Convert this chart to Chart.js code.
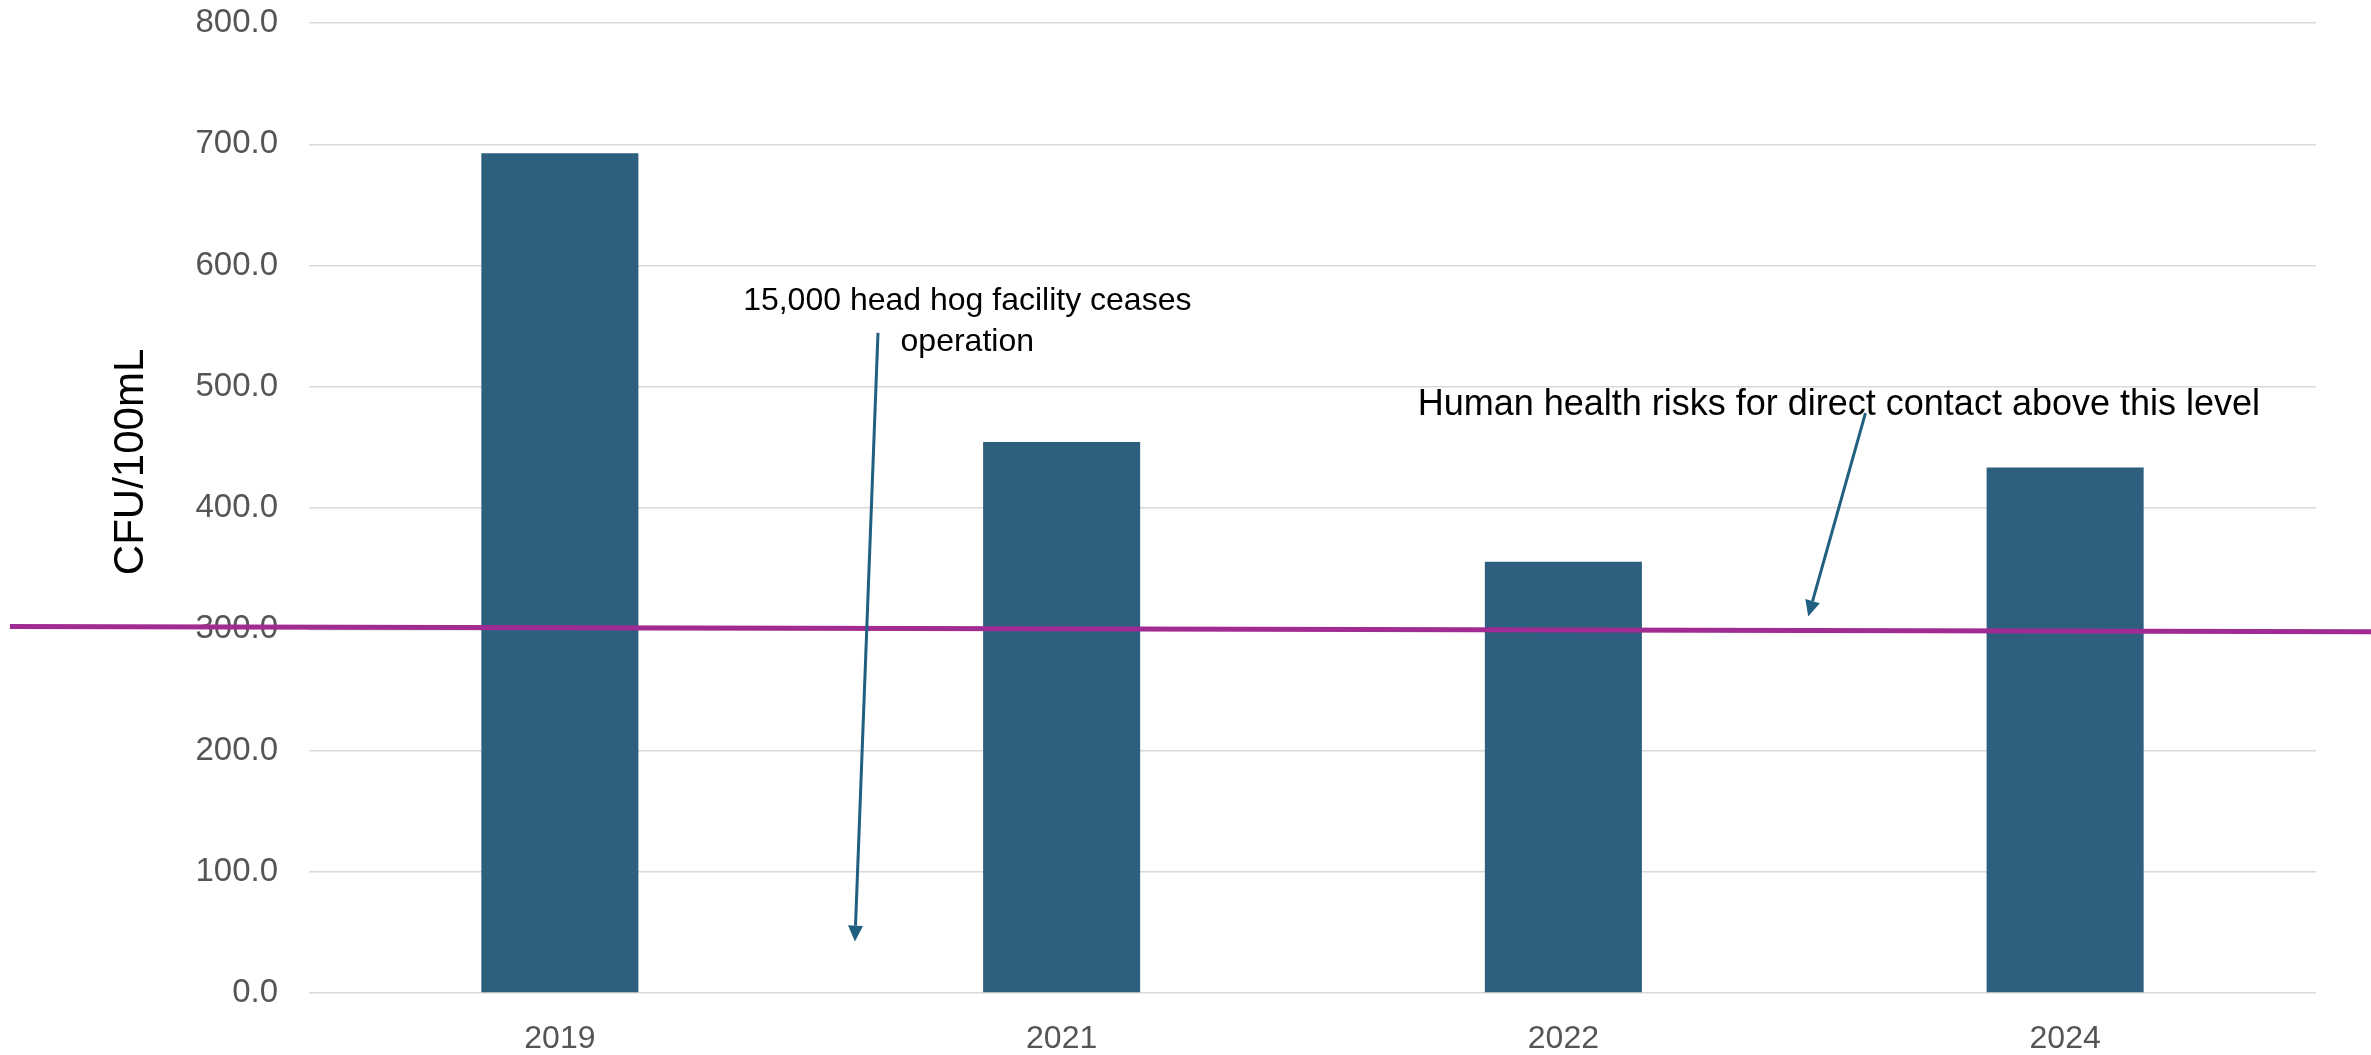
<!DOCTYPE html>
<html lang="en">
<head>
<meta charset="UTF-8">
<title>CFU/100mL</title>
<script src="https://cdn.jsdelivr.net/npm/chart.js@4.4.1/dist/chart.umd.min.js"></script>
<style>
    html, body { margin: 0; padding: 0; background: #ffffff; }
    #contenedor { width: 2371px; height: 1055px; position: relative; }
</style>
</head>
<body>
<div id="contenedor">
    <canvas id="graficoCFU"></canvas>
</div>
<script>
// Datos del gráfico
const anios = ['2019', '2021', '2022', '2024'];
const valoresCFU = [692.6, 454.4, 355.7, 433.5];
const escalaY = [0, 800, 100];            // mínimo, máximo, paso
const limiteSalud = [302.3, 297.9];        // nivel de la línea al inicio y al final

const FUENTE = "'Liberation Sans', Arial, sans-serif";

// Anotaciones (posiciones en unidades de las escalas: índice de categoría, valor)
const notas = [
    { lineas: ['15,000 head hog facility ceases', 'operation'], x: 0.812, y: [563.4, 529.6], size: 32 },
    { lineas: ['Human health risks for direct contact above this level'], x: 2.549, y: [476.8], size: 36 }
];
const flechas = [
    { desde: [0.634, 544.4], hasta: [0.588, 42.4] },
    { desde: [2.602, 478.3], hasta: [2.488, 310.5] }
];
const extremosLimite = [-1.096, 3.61];

// Plugin para línea de límite, flechas, textos y título del eje
const pluginExtras = {
    id: 'extras',
    afterDraw(chart) {
        const ctx = chart.ctx;
        const x = chart.scales.x;
        const y = chart.scales.y;

        // Línea del límite
        ctx.save();
        ctx.strokeStyle = '#a02b93';
        ctx.lineWidth = 5;
        ctx.beginPath();
        ctx.moveTo(x.getPixelForValue(extremosLimite[0]), y.getPixelForValue(limiteSalud[0]));
        ctx.lineTo(x.getPixelForValue(extremosLimite[1]), y.getPixelForValue(limiteSalud[1]));
        ctx.stroke();
        ctx.restore();

        // Flechas
        flechas.forEach(f => {
            const x1 = x.getPixelForValue(f.desde[0]);
            const y1 = y.getPixelForValue(f.desde[1]);
            const x2 = x.getPixelForValue(f.hasta[0]);
            const y2 = y.getPixelForValue(f.hasta[1]);
            const ang = Math.atan2(y2 - y1, x2 - x1);
            const largo = 16, ancho = 7.5;
            ctx.save();
            ctx.strokeStyle = '#1f5f80';
            ctx.fillStyle = '#1f5f80';
            ctx.lineWidth = 3;
            ctx.beginPath();
            ctx.moveTo(x1, y1);
            ctx.lineTo(x2 - Math.cos(ang) * largo, y2 - Math.sin(ang) * largo);
            ctx.stroke();
            ctx.translate(x2, y2);
            ctx.rotate(ang);
            ctx.beginPath();
            ctx.moveTo(0, 0);
            ctx.lineTo(-largo, -ancho);
            ctx.lineTo(-largo, ancho);
            ctx.closePath();
            ctx.fill();
            ctx.restore();
        });

        // Textos de las anotaciones
        notas.forEach(n => {
            ctx.save();
            ctx.fillStyle = '#000000';
            ctx.font = n.size + 'px ' + FUENTE;
            ctx.textAlign = 'center';
            ctx.textBaseline = 'alphabetic';
            n.lineas.forEach((linea, i) => {
                ctx.fillText(linea, x.getPixelForValue(n.x), y.getPixelForValue(n.y[i]));
            });
            ctx.restore();
        });

        // Título del eje Y
        ctx.save();
        ctx.fillStyle = '#000000';
        ctx.font = '42px ' + FUENTE;
        ctx.textAlign = 'center';
        ctx.textBaseline = 'middle';
        ctx.translate(chart.chartArea.left - 178, y.getPixelForValue(438));
        ctx.rotate(-Math.PI / 2);
        ctx.fillText('CFU/100mL', 0, 0);
        ctx.restore();
    }
};

// Inicializar gráfico
new Chart(document.getElementById('graficoCFU'), {
    type: 'bar',
    data: {
        labels: anios,
        datasets: [{
            label: 'CFU/100mL',
            data: valoresCFU,
            backgroundColor: '#2e5f7f',
            borderWidth: 0,
            barPercentage: 0.313,
            categoryPercentage: 1
        }]
    },
    options: {
        responsive: true,
        maintainAspectRatio: false,
        animation: false,
        layout: {
            padding: { top: 23, right: 55, bottom: 0, left: 0 }
        },
        plugins: {
            legend: { display: false },
            tooltip: { enabled: false }
        },
        scales: {
            x: {
                grid: { display: false },
                border: { display: false },
                ticks: {
                    color: '#555555',
                    font: { family: FUENTE, size: 32 },
                    padding: 19
                },
                afterFit(scale) {
                    scale.height = 62;
                    scale.paddingLeft = 0;
                    scale.paddingRight = 0;
                }
            },
            y: {
                min: escalaY[0],
                max: escalaY[1],
                border: { display: false },
                grid: {
                    color: '#d9d9d9',
                    lineWidth: 1.5,
                    drawTicks: false
                },
                ticks: {
                    stepSize: escalaY[2],
                    color: '#555555',
                    font: { family: FUENTE, size: 33 },
                    padding: 31,
                    callback: v => v.toFixed(1)
                },
                afterFit(scale) {
                    scale.width = 309;
                    scale.paddingTop = 0;
                    scale.paddingBottom = 0;
                }
            }
        }
    },
    plugins: [pluginExtras]
});
</script>
</body>
</html>
